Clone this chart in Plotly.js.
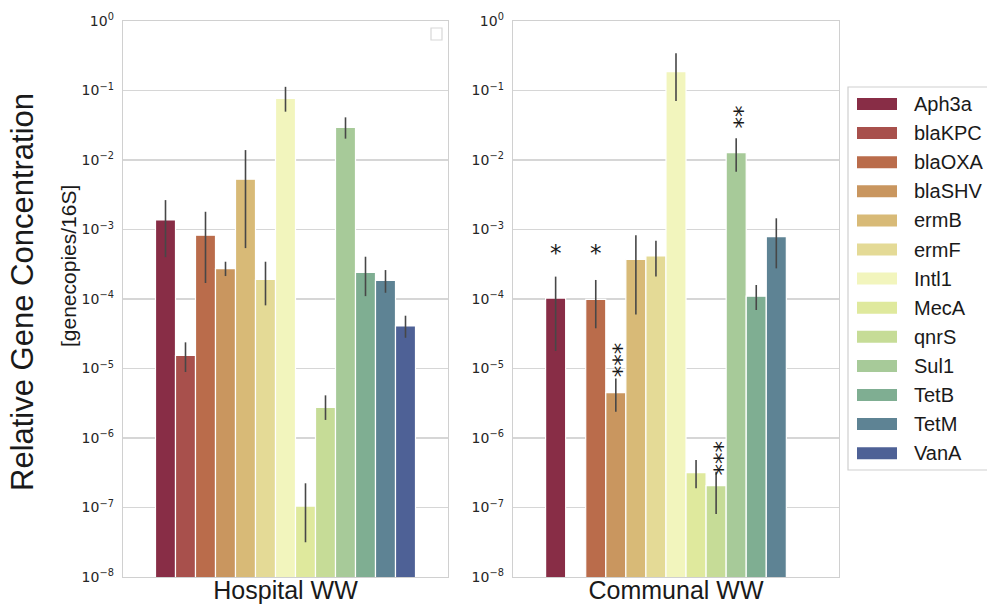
<!DOCTYPE html>
<html>
<head>
<meta charset="utf-8">
<script src="https://cdn.plot.ly/plotly-3.0.1.min.js"></script>
<style>html,body{margin:0;padding:0;background:#fff;}#chart{width:987px;height:604px;}</style>
</head>
<body>
<div id="chart"></div>
<script>
// ---- data ----
const genes = ["Aph3a","blaKPC","blaOXA","blaSHV","ermB","ermF","Intl1","MecA","qnrS","Sul1","TetB","TetM","VanA"];
const colors = ["#882d46","#a8504c","#ba6c4b","#c9965f","#d8ba77","#e4da96","#f2f5bd","#dfe99d","#c6dc97","#a7ca99","#7fae92","#5e8394","#4e6196"];
const groups = ["Hospital WW","Communal WW"];

const hospitalMean = [1.37e-3, 1.55e-5, 8.3e-4, 2.73e-4, 5.3e-3, 1.92e-4, 7.7e-2, 1.05e-7, 2.76e-6, 2.95e-2, 2.42e-4, 1.86e-4, 4.09e-5];
const hospitalHigh = [2.65e-3, 2.38e-5, 1.8e-3, 3.44e-4, 1.39e-2, 3.44e-4, 1.13e-1, 2.23e-7, 4.11e-6, 4.11e-2, 4.06e-4, 2.61e-4, 5.75e-5];
const hospitalLow  = [4.0e-4, 8.9e-6, 1.7e-4, 2.14e-4, 5.4e-4, 8.1e-5, 4.96e-2, 3.16e-8, 1.82e-6, 2.03e-2, 1.1e-4, 1.23e-4, 2.77e-5];

const communalMean = [1.03e-4, null, 9.9e-5, 4.49e-6, 3.72e-4, 4.16e-4, 1.87e-1, 3.17e-7, 2.06e-7, 1.28e-2, 1.1e-4, 7.9e-4, null];
const communalHigh = [2.1e-4, null, 1.88e-4, 7.2e-6, 8.3e-4, 6.9e-4, 3.43e-1, 4.82e-7, 3.28e-7, 2.05e-2, 1.59e-4, 1.45e-3, null];
const communalLow  = [1.79e-5, null, 3.79e-5, 2.39e-6, 6.0e-5, 2.1e-4, 7.06e-2, 1.89e-7, 8.05e-8, 6.8e-3, 6.95e-5, 2.76e-4, null];

// significance marks in Communal WW: gene, label
const sigGenes  = ["Aph3a","blaOXA","blaSHV","qnrS","Sul1"];
const sigLabels = ["*","*","***","***","**"];
const sigLevels = [5.4e-4, 5.4e-4, 1.3e-5, 5.15e-7, 4.2e-2];

const tickExponents = [0,-1,-2,-3,-4,-5,-6,-7,-8];

// ---- build ----
const traces = [];
function addGroup(means, highs, lows, xName, xa, ya) {
  genes.forEach((g, i) => {
    const m = means[i];
    traces.push({
      type: "bar",
      name: g,
      x: [xName],
      y: [m],
      xaxis: xa, yaxis: ya,
      showlegend: false,
      marker: {color: colors[i], line: {color: "#ffffff", width: 1.2}},
      error_y: {
        type: "data", symmetric: false,
        array: [m == null ? null : highs[i] - m],
        arrayminus: [m == null ? null : m - lows[i]],
        color: "#474747", thickness: 1.6, width: 0
      },
      hoverinfo: "name+y"
    });
  });
}
addGroup(hospitalMean, hospitalHigh, hospitalLow, groups[0], "x", "y");
addGroup(communalMean, communalHigh, communalLow, groups[1], "x2", "y2");

const tickvals = tickExponents.map(e => Math.pow(10, e));
const ticktext = tickExponents.map(e => "10<sup>" + (e < 0 ? "\u2212" + (-e) : e) + "</sup>");

const yBase = {
  type: "log", range: [-8, 0], domain: [0.0447, 0.9652],
  tickvals: tickvals, ticktext: ticktext,
  tickfont: {family: "DejaVu Sans", size: 14, color: "#262626"},
  ticks: "", ticklabelstandoff: 5,
  showgrid: true, gridcolor: "#d6d6d6", gridwidth: 1.3,
  showline: true, mirror: true, linecolor: "#d0d0d0", linewidth: 1.3,
  zeroline: false
};
const xBase = {
  type: "category", range: [-0.5, 0.5],
  showticklabels: false, ticks: "", showgrid: false,
  showline: true, mirror: true, linecolor: "#d0d0d0", linewidth: 1.3,
  title: {font: {family: "Liberation Sans, Arial", size: 25, color: "#1a1a1a"}, standoff: 6}
};

const annotations = [];
// y-axis titles
annotations.push({xref: "paper", yref: "paper", x: 22/987, y: 1 - 292/604, text: "Relative Gene Concentration",
  showarrow: false, textangle: -90, font: {family: "Liberation Sans, Arial", size: 31, color: "#1a1a1a"}, xanchor: "center", yanchor: "middle"});
annotations.push({xref: "paper", yref: "paper", x: 69/987, y: 1 - 266/604, text: "[genecopies/16S]",
  showarrow: false, textangle: -90, font: {family: "Liberation Sans, Arial", size: 21, color: "#1a1a1a"}, xanchor: "center", yanchor: "middle"});

// significance stars (positioned by gene slot in the group)
const groupWidth = 0.8;
sigGenes.forEach((g, k) => {
  const i = genes.indexOf(g);
  const xpos = -groupWidth / 2 + groupWidth * (i + 0.5) / genes.length;
  const multi = sigLabels[k].length > 1;
  annotations.push({
    xref: "x2", yref: "y2", x: xpos, y: Math.log10(sigLevels[k]),
    text: sigLabels[k], showarrow: false, textangle: multi ? 90 : 0,
    font: {family: "DejaVu Sans", size: 23, color: "#1a1a1a"},
    xanchor: "center", yanchor: "middle", xshift: multi ? -1 : 0, yshift: multi ? 0 : -5
  });
});

// custom legend (wide swatches like the reference)
const shapes = [];
const legLeft = 848, legTop = 87, rowH = 29.1, firstRow = 104;
shapes.push({type: "rect", xref: "paper", yref: "paper", x0: legLeft/987, x1: 1.02, y0: 1 - 470/604, y1: 1 - legTop/604,
  line: {color: "#cfcfcf", width: 1.2}, fillcolor: "rgba(255,255,255,0)"});
genes.forEach((g, i) => {
  const cy = firstRow + rowH * i;
  shapes.push({type: "rect", xref: "paper", yref: "paper", x0: 857/987, x1: 897/987,
    y0: 1 - (cy + 6)/604, y1: 1 - (cy - 6)/604, fillcolor: colors[i], line: {width: 0}});
  annotations.push({xref: "paper", yref: "paper", x: 912/987, y: 1 - cy/604, text: g, showarrow: false,
    xanchor: "left", yanchor: "middle", font: {family: "Liberation Sans, Arial", size: 20, color: "#1a1a1a"}});
});
// empty matplotlib legend box in the left panel
shapes.push({type: "rect", xref: "paper", yref: "paper", x0: 431/987, x1: 442/987, y0: 1 - 40/604, y1: 1 - 28/604,
  line: {color: "#d8d8d8", width: 1.2}, fillcolor: "rgba(255,255,255,0)"});

const layout = {
  width: 987, height: 604,
  margin: {l: 0, r: 0, t: 0, b: 0},
  paper_bgcolor: "#ffffff", plot_bgcolor: "#ffffff",
  barmode: "group", bargap: 0.2, bargroupgap: 0,
  showlegend: false,
  xaxis: Object.assign({}, xBase, {domain: [123/987, 448/987], anchor: "y",
    title: Object.assign({}, xBase.title, {text: groups[0]})}),
  xaxis2: Object.assign({}, xBase, {domain: [513/987, 839/987], anchor: "y2",
    title: Object.assign({}, xBase.title, {text: groups[1]})}),
  yaxis: Object.assign({}, yBase, {anchor: "x"}),
  yaxis2: Object.assign({}, yBase, {anchor: "x2"}),
  annotations: annotations,
  shapes: shapes,
  font: {family: "Liberation Sans, Arial"}
};

Plotly.newPlot("chart", traces, layout, {displayModeBar: false, staticPlot: true});
</script>
</body>
</html>
